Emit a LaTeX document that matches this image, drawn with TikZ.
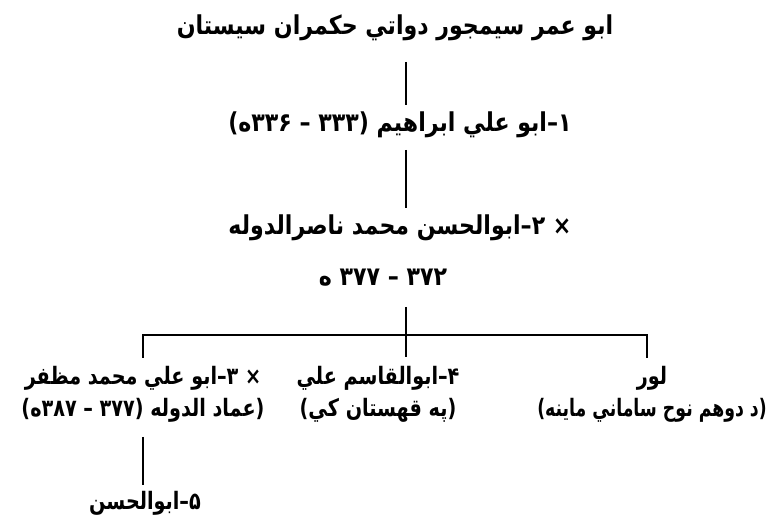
\documentclass[tikz,border=0pt]{standalone}
\usepackage{fontspec}
\TeXXeTstate=1
\newfontfamily\arabicfont[Script=Arabic,FakeStretch=0.85]{DejaVu Sans}
\newfontfamily\arabicnarrow[Script=Arabic,FakeStretch=0.8]{DejaVu Sans}
\newcommand\ar[1]{\beginR #1\endR}
\begin{document}
\begin{tikzpicture}[x=1pt,y=1pt,
  txt/.style={font=\arabicfont\bfseries\fontsize{26}{33}\selectfont, inner sep=2pt, align=center},
  low/.style={font=\arabicnarrow\bfseries\fontsize{24}{32}\selectfont, inner sep=2pt, align=center},
  conn/.style={line width=1.2pt}]
\useasboundingbox (0,0) rectangle (772,-526);
\fill[white] (0,0) rectangle (772,-526);
\coordinate (trunk) at (406,0);
\node[txt] (n0) at (395,-28) {\ar{ابو عمر سيمجور دواتي حکمران سيستان}};
\node[txt] (n1) at (400,-125) {\ar{۱–ابو علي ابراهيم (۳۳۳ – ۳۳۶ه)}};
\node[txt] (n2) at (400,-228) {\ar{× ۲–ابوالحسن محمد ناصرالدوله}};
\node[txt] (n2b) at (383,-278) {\ar{۳۷۲ – ۳۷۷ ه}};
\node[low] (n3) at (143,-394) {\ar{× ۳–ابو علي محمد مظفر}\\\ar{(عماد الدوله (۳۷۷ – ۳۸۷ه)}};
\node[low] (n4) at (378,-394) {\ar{۴–ابوالقاسم علي}\\\ar{(په قهستان کي)}};
\node[low] (n5) at (652,-394) {\ar{لور}\\\scalebox{0.9}[1]{\ar{(د دوهم نوح ساماني ماينه)}}};
\node[low] (n6) at (145,-503) {\ar{۵–ابوالحسن}};
\coordinate (t0) at (406,-62);  \coordinate (t1) at (406,-105);
\coordinate (t2) at (406,-150); \coordinate (t3) at (406,-208);
\coordinate (t4) at (406,-307); \coordinate (t5) at (406,-357);
\coordinate (bl) at (143,-335); \coordinate (br) at (647,-335);
\coordinate (bl2) at (143,-358); \coordinate (br2) at (647,-358);
\coordinate (c0) at (143,-437); \coordinate (c1) at (143,-485);
\draw[conn] (t0) -- (t1);
\draw[conn] (t2) -- (t3);
\draw[conn] (t4) -- (t5);
\draw[conn] (bl2) -- (bl) -- (br) -- (br2);
\draw[conn] (c0) -- (c1);
\end{tikzpicture}
\end{document}
